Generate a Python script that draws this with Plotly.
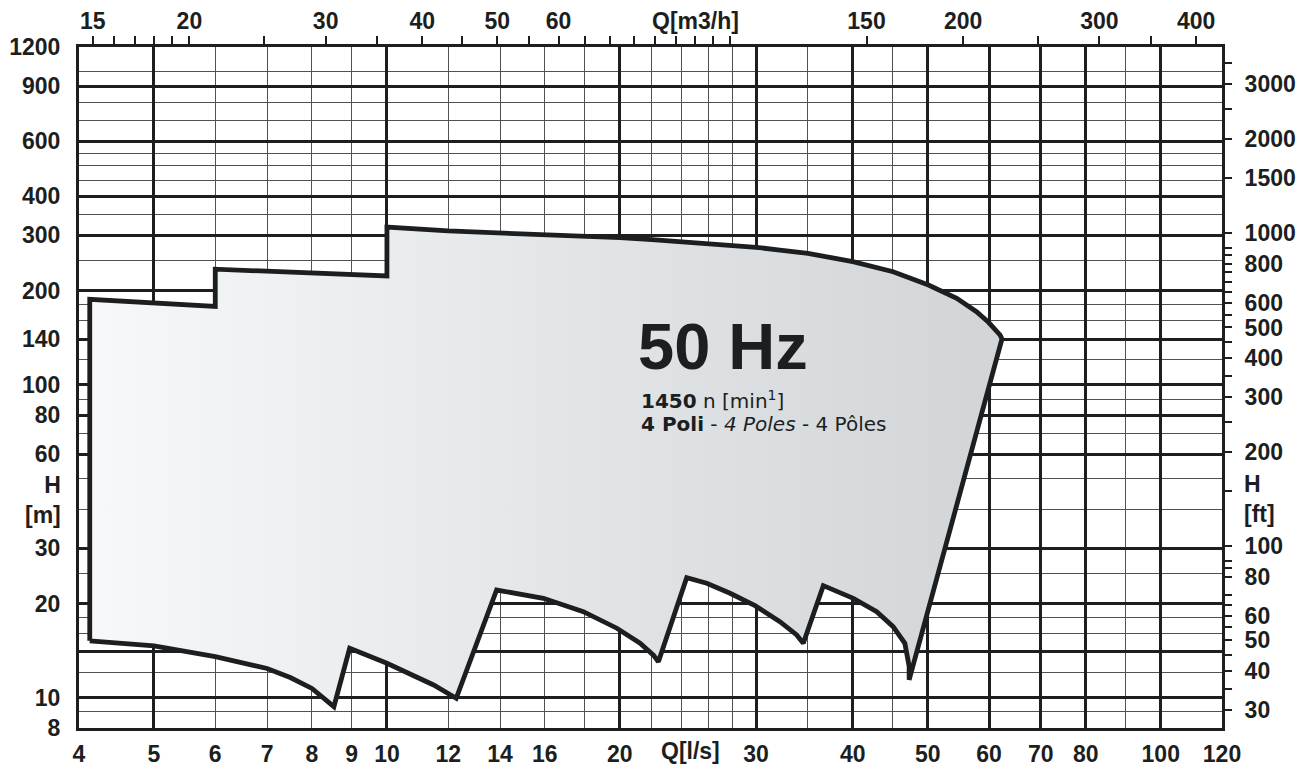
import math
import plotly.graph_objects as go

# ---------------- data ----------------
# Envelope outline, Q in l/s, H in m, traced clockwise
left_q = [4.13, 4.13, 6.0, 6.0, 10.0]
left_h = [15.2, 187.5, 178.0, 234.0, 222.6]

top_q = [10.0, 12, 14, 16, 18, 20, 22, 24, 26, 28, 30, 32.2, 35, 40, 45.1, 50.1, 54.5, 57.8, 59.9, 62.0, 62.35]
top_h = [319, 310, 306, 302, 298.6, 295, 291, 287, 283, 279, 274.9, 269.4, 263, 247.3, 229.7, 208.3, 188.9, 171.1, 158.3, 144.2, 140]

bottom_q = [47.3, 47.3, 46.7, 45.1, 42.95, 40.06, 36.64,
            34.52, 33.85, 32.2, 29.9, 27.76, 25.9, 24.4,
            22.43, 22.1, 21.24, 19.82, 17.94, 15.93, 13.86,
            12.29, 11.49, 10.82, 10.0, 8.95,
            8.54, 8.0, 7.5, 7.0, 6.0, 5.0, 4.13]
bottom_h = [11.4, 12.6, 14.92, 16.86, 18.83, 20.77, 22.8,
            14.92, 15.86, 17.49, 19.68, 21.56, 23.2, 24.18,
            13.03, 13.68, 14.92, 16.67, 18.83, 20.77, 22.08,
            9.96, 10.98, 11.8, 12.88, 14.38,
            9.36, 10.7, 11.6, 12.4, 13.52, 14.63, 15.2]

# Axes
q_range = [4, 120]          # l/s
h_range = [8, 1200]         # m
q_labels = [4, 5, 6, 7, 8, 9, 10, 12, 14, 16, 20, 30, 40, 50, 60, 70, 80, 100, 120]
h_labels = [8, 10, 20, 30, 60, 80, 100, 140, 200, 300, 400, 600, 900, 1200]
q_grid_thick = [5, 10, 20, 30, 40, 50, 60, 70, 80, 100]
q_grid_thin = [6, 7, 8, 9, 12, 14, 16, 18, 22, 24, 26, 28, 35, 45, 90]
h_grid_thick = [10, 14, 20, 30, 60, 80, 100, 140, 200, 300, 400, 600, 900]
h_grid_thin = [9, 12, 16, 18, 25, 40, 50, 70, 90, 120, 160, 180, 250, 350, 450, 500, 550, 700, 800, 1000]

m3h_labels = [15, 20, 30, 40, 50, 60, 150, 200, 300, 400]
m3h_minor = [16, 17, 18, 19, 25, 35, 45, 55, 65, 70, 75, 80, 85, 90, 95, 100, 250, 350]
ft_labels = [30, 40, 50, 60, 80, 100, 200, 300, 400, 500, 600, 800, 1000, 1500, 2000, 3000]
ft_minor = [35, 45, 55, 65, 70, 85, 90, 150, 250, 350, 450, 550, 650, 700, 750, 850, 900, 2500, 3500]

LS_TO_M3H = 3.6
M_TO_FT = 3.28084

# ---------------- figure ----------------
INK = "#1c1e20"
THIN = "#505254"
LABEL_FONT = dict(family="Liberation Sans, Arial, sans-serif", size=23, color=INK, weight="bold")

env_q = left_q + top_q + bottom_q
env_h = left_h + top_h + bottom_h

fig = go.Figure()
fig.add_trace(go.Scatter(
    x=env_q, y=env_h, mode="lines", fill="toself",
    fillgradient=dict(type="horizontal", colorscale=[[0, "#f6f8f9"], [1, "#d1d5d8"]]),
    line=dict(color=INK, width=4.8),
    hoverinfo="skip", showlegend=False,
))
# same envelope expressed in the secondary units (m3/h, ft) - invisible, only
# so that the top / right axes are drawn
fig.add_trace(go.Scatter(
    x=[q * LS_TO_M3H for q in env_q], y=[h * M_TO_FT for h in env_h],
    xaxis="x2", yaxis="y2", mode="lines", line=dict(width=0, color="rgba(0,0,0,0)"),
    hoverinfo="skip", showlegend=False,
))
# invisible copy carrying the heavy grid axes
fig.add_trace(go.Scatter(
    x=env_q, y=env_h, xaxis="x3", yaxis="y3", mode="lines",
    line=dict(width=0, color="rgba(0,0,0,0)"), hoverinfo="skip", showlegend=False,
))

# page body adds an 8px offset; the figure is sized so the plot area lands
# at x 79..1222, y 47..728 of the window
OFF = 8
W, H = 1316 - 2 * OFF, 774 - 2 * OFF
ML, MT = 79 - OFF, 47 - OFF
PW, PH = 1143, 681
MR, MB = W - ML - PW, H - MT - PH

lg = math.log10
fig.update_layout(
    width=W, height=H,
    margin=dict(l=ML, r=MR, t=MT, b=MB, autoexpand=False),
    paper_bgcolor="white", plot_bgcolor="white",
    showlegend=False,
    xaxis=dict(
        type="log", range=[lg(q_range[0]), lg(q_range[1])], automargin=False,
        tickmode="array", tickvals=q_labels, ticktext=[str(v) for v in q_labels],
        ticks="", showgrid=False, zeroline=False,
        showline=True, linewidth=3, linecolor=INK,
        tickfont=LABEL_FONT, ticklabelstandoff=3,
        minor=dict(tickmode="array", tickvals=q_grid_thin, showgrid=True,
                   gridwidth=1, gridcolor=THIN, ticks=""),
    ),
    yaxis=dict(
        type="log", range=[lg(h_range[0]), lg(h_range[1])], automargin=False,
        tickmode="array", tickvals=h_labels, ticktext=[str(v) for v in h_labels],
        ticks="", showgrid=False, zeroline=False,
        showline=True, linewidth=3, linecolor=INK,
        tickfont=LABEL_FONT, ticklabelstandoff=11,
        minor=dict(tickmode="array", tickvals=h_grid_thin, showgrid=True,
                   gridwidth=1, gridcolor=THIN, ticks=""),
    ),
    xaxis2=dict(
        type="log", overlaying="x", side="top", anchor="y2", automargin=False,
        range=[lg(q_range[0] * LS_TO_M3H), lg(q_range[1] * LS_TO_M3H)],
        tickmode="array", tickvals=m3h_labels, ticktext=[str(v) for v in m3h_labels],
        ticks="outside", ticklen=8, tickwidth=1.5, tickcolor=INK,
        showgrid=False, zeroline=False,
        showline=True, linewidth=3, linecolor=INK,
        tickfont=LABEL_FONT, ticklabelstandoff=-2,
        minor=dict(tickmode="array", tickvals=m3h_minor, ticks="outside",
                   ticklen=8, tickwidth=1.5, tickcolor=INK, showgrid=False),
    ),
    yaxis2=dict(
        type="log", overlaying="y", side="right", anchor="x2", automargin=False,
        range=[lg(h_range[0] * M_TO_FT), lg(h_range[1] * M_TO_FT)],
        tickmode="array", tickvals=ft_labels, ticktext=[str(v) for v in ft_labels],
        ticks="outside", ticklen=7, tickwidth=1.5, tickcolor=INK,
        showgrid=False, zeroline=False,
        showline=True, linewidth=3, linecolor=INK,
        tickfont=LABEL_FONT, ticklabelstandoff=8,
        minor=dict(tickmode="array", tickvals=ft_minor, ticks="outside",
                   ticklen=7, tickwidth=1.5, tickcolor=INK, showgrid=False),
    ),
    xaxis3=dict(
        type="log", overlaying="x", anchor="y3", automargin=False,
        range=[lg(q_range[0]), lg(q_range[1])],
        tickmode="array", tickvals=q_grid_thick, showticklabels=False, ticks="",
        showgrid=True, gridwidth=2.5, gridcolor=INK, zeroline=False, showline=False,
    ),
    yaxis3=dict(
        type="log", overlaying="y", anchor="x3", automargin=False,
        range=[lg(h_range[0]), lg(h_range[1])],
        tickmode="array", tickvals=h_grid_thick, showticklabels=False, ticks="",
        showgrid=True, gridwidth=2.5, gridcolor=INK, zeroline=False, showline=False,
    ),
)


def px(xp):
    return (xp - 79) / PW


def py(yp):
    return 1 - (yp - 47) / PH


ann = []
ann.append(dict(text="50 Hz", x=px(636), y=py(346), xanchor="left", yanchor="middle",
                font=dict(family="Liberation Sans, Arial", size=65, color=INK, weight="bold")))
ann.append(dict(text="<b>1450</b> n [min<sup>1</sup>]", x=px(639), y=py(400),
                xanchor="left", yanchor="middle",
                font=dict(family="DejaVu Sans", size=20, color=INK)))
ann.append(dict(text="<b>4 Poli</b> - <i>4 Poles</i> - 4 Pôles", x=px(639), y=py(424),
                xanchor="left", yanchor="middle",
                font=dict(family="DejaVu Sans", size=20, color=INK)))
ann.append(dict(text="H<br>[m]", x=px(63), y=py(500), xanchor="right", yanchor="middle",
                align="right", font=LABEL_FONT))
ann.append(dict(text="H<br>[ft]", x=px(1242), y=py(499), xanchor="left", yanchor="middle",
                align="left", font=LABEL_FONT))
ann.append(dict(text="Q[m3/h]", x=px(695), y=py(21), xanchor="center", yanchor="middle",
                font=LABEL_FONT))
ann.append(dict(text="Q[l/s]", x=px(690), y=py(751), xanchor="center", yanchor="middle",
                font=LABEL_FONT))
for a in ann:
    a.update(xref="paper", yref="paper", showarrow=False)
fig.update_layout(annotations=ann)

fig.write_html("out.html")
